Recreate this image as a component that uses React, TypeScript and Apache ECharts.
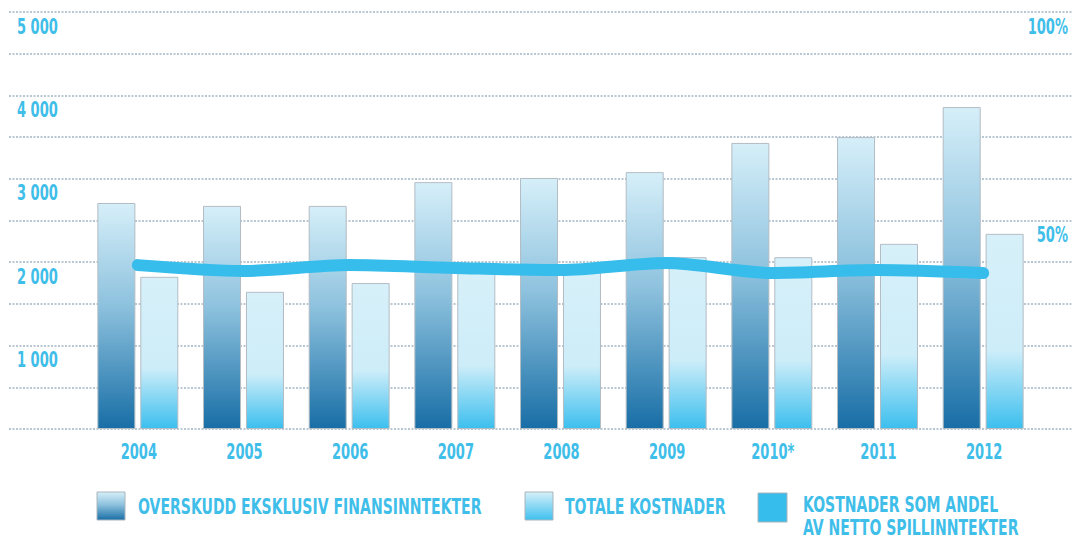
import React, { useEffect, useRef } from "react";
import * as echarts from "echarts";

const years = ["2004", "2005", "2006", "2007", "2008", "2009", "2010*", "2011", "2012"];
const overskudd = [2710, 2675, 2675, 2960, 3010, 3080, 3430, 3500, 3860];
const kostnader = [1825, 1645, 1750, 1895, 1885, 2060, 2060, 2220, 2340];
const andel = [39.3, 37.9, 39.3, 38.6, 38.1, 39.8, 37.4, 38.1, 37.4];
const leftTicks = [1000, 2000, 3000, 4000, 5000];
const rightTicks = [50, 100];
const legendNames = [
  "OVERSKUDD EKSKLUSIV FINANSINNTEKTER",
  "TOTALE KOSTNADER",
  "KOSTNADER SOM ANDEL",
  "AV NETTO SPILLINNTEKTER",
];

const FONT = "'DejaVu Sans Condensed', 'DejaVu Sans', sans-serif";
const TXT = "#3fbee9";
const FS = 22;
const SQ = 0.66; // horizontal squeeze to imitate a condensed display face
const SQ_LEGEND = 0.71;

function fmt(v: number) {
  return String(v).replace(/\B(?=(\d{3})+(?!\d))/g, " ");
}

function txt(text: string, x: number, y: number, align: string, scaleX = SQ) {
  return {
    type: "text",
    x,
    y,
    scaleX,
    style: {
      text,
      fill: TXT,
      font: `bold ${FS}px ${FONT}`,
      align,
      verticalAlign: "top",
    },
    z: 10,
  };
}

export default function App() {
  const ref = useRef<HTMLDivElement>(null);
  useEffect(() => {
    if (!ref.current) return;
    const chart = echarts.init(ref.current, null, { renderer: "svg" });
    const darkGrad = () =>
      new echarts.graphic.LinearGradient(0, 0, 0, 1, [
        { offset: 0, color: "#d6eff9" },
        { offset: 0.45, color: "#8ec2de" },
        { offset: 1, color: "#186ea6" },
      ]);
    const lightGrad = () =>
      new echarts.graphic.LinearGradient(0, 0, 0, 1, [
        { offset: 0, color: "#d7f0f9" },
        { offset: 0.6, color: "#cdedf9" },
        { offset: 1, color: "#3cbfee" },
      ]);
    const gridLine = { type: [2, 1.5], color: "#a3b5c3", width: 1.6 };
    chart.setOption({
      animation: false,
      grid: [
        { left: 9, right: 0, top: 12, bottom: 111 },
        { left: 85, right: 37, top: 12, bottom: 111 },
      ],
      xAxis: [
        { gridIndex: 0, type: "value", show: false, min: 0, max: 1 },
        {
          gridIndex: 1,
          type: "category",
          data: years,
          axisLine: { show: false },
          axisTick: { show: false },
          axisLabel: { show: false },
        },
      ],
      yAxis: [
        {
          gridIndex: 0,
          type: "value",
          min: 0,
          max: 5000,
          interval: 500,
          axisLine: { show: false },
          axisTick: { show: false },
          splitLine: { show: true, lineStyle: gridLine },
          axisLabel: { show: false },
        },
        {
          gridIndex: 0,
          type: "value",
          position: "right",
          min: 0,
          max: 100,
          interval: 50,
          axisLine: { show: false },
          axisTick: { show: false },
          splitLine: { show: false },
          axisLabel: { show: false },
        },
        { gridIndex: 1, type: "value", min: 0, max: 5000, show: false },
        { gridIndex: 1, type: "value", min: 0, max: 100, show: false },
      ],
      series: [
        {
          name: legendNames[0],
          type: "bar",
          xAxisIndex: 1,
          yAxisIndex: 2,
          data: overskudd,
          barWidth: 38,
          barGap: "13%",
          itemStyle: { color: darkGrad(), borderColor: "#b3bcc3", borderWidth: 1 },
        },
        {
          name: legendNames[1],
          type: "bar",
          xAxisIndex: 1,
          yAxisIndex: 2,
          data: kostnader,
          barWidth: 38,
          barGap: "13%",
          itemStyle: { color: lightGrad(), borderColor: "#b3bcc3", borderWidth: 1 },
        },
        {
          name: legendNames[2] + " " + legendNames[3],
          type: "line",
          xAxisIndex: 1,
          yAxisIndex: 3,
          data: andel,
          smooth: 0.3,
          showSymbol: false,
          symbol: "none",
          lineStyle: { color: "#36bdec", width: 12, cap: "round", join: "round" },
          z: 5,
        },
      ],
    });

    const graphics: any[] = [];
    // x-axis labels, positioned through the category axis
    years.forEach((y, i) => {
      const p = chart.convertToPixel({ xAxisIndex: 1 }, i) as number;
      graphics.push(txt(y, p + 1, 440, "center"));
    });
    // left value labels
    leftTicks.forEach((v) => {
      const py = chart.convertToPixel({ yAxisIndex: 0 }, v) as number;
      graphics.push(txt(fmt(v), 17, py + 3, "left"));
    });
    // right percent labels
    rightTicks.forEach((v) => {
      const py = chart.convertToPixel({ yAxisIndex: 1 }, v) as number;
      graphics.push(txt(v + "%", 1068, py + 3, "right"));
    });
    // legend
    graphics.push({
      type: "rect",
      shape: { x: 97, y: 492, width: 28, height: 28 },
      style: { fill: darkGrad(), stroke: "#aab4bc", lineWidth: 1 },
    });
    graphics.push(txt(legendNames[0], 138, 495, "left", SQ_LEGEND));
    graphics.push({
      type: "rect",
      shape: { x: 525, y: 492, width: 28, height: 28 },
      style: {
        fill: new echarts.graphic.LinearGradient(0, 0, 0, 1, [
          { offset: 0, color: "#d6f0f9" },
          { offset: 1, color: "#3fc0ee" },
        ]),
        stroke: "#aab4bc",
        lineWidth: 1,
      },
    });
    graphics.push(txt(legendNames[1], 565, 495, "left", SQ_LEGEND));
    graphics.push({
      type: "rect",
      shape: { x: 758, y: 493, width: 29, height: 29 },
      style: { fill: "#36bdec", stroke: "#aab4bc", lineWidth: 1 },
    });
    graphics.push(txt(legendNames[2], 803, 493, "left", SQ_LEGEND));
    graphics.push(txt(legendNames[3], 803, 516, "left", SQ_LEGEND));

    chart.setOption({ graphic: graphics });
    return () => chart.dispose();
  }, []);
  return (
    <div
      ref={ref}
      style={{ position: "fixed", left: 0, top: 0, width: 1073, height: 540, background: "#fff" }}
    />
  );
}
